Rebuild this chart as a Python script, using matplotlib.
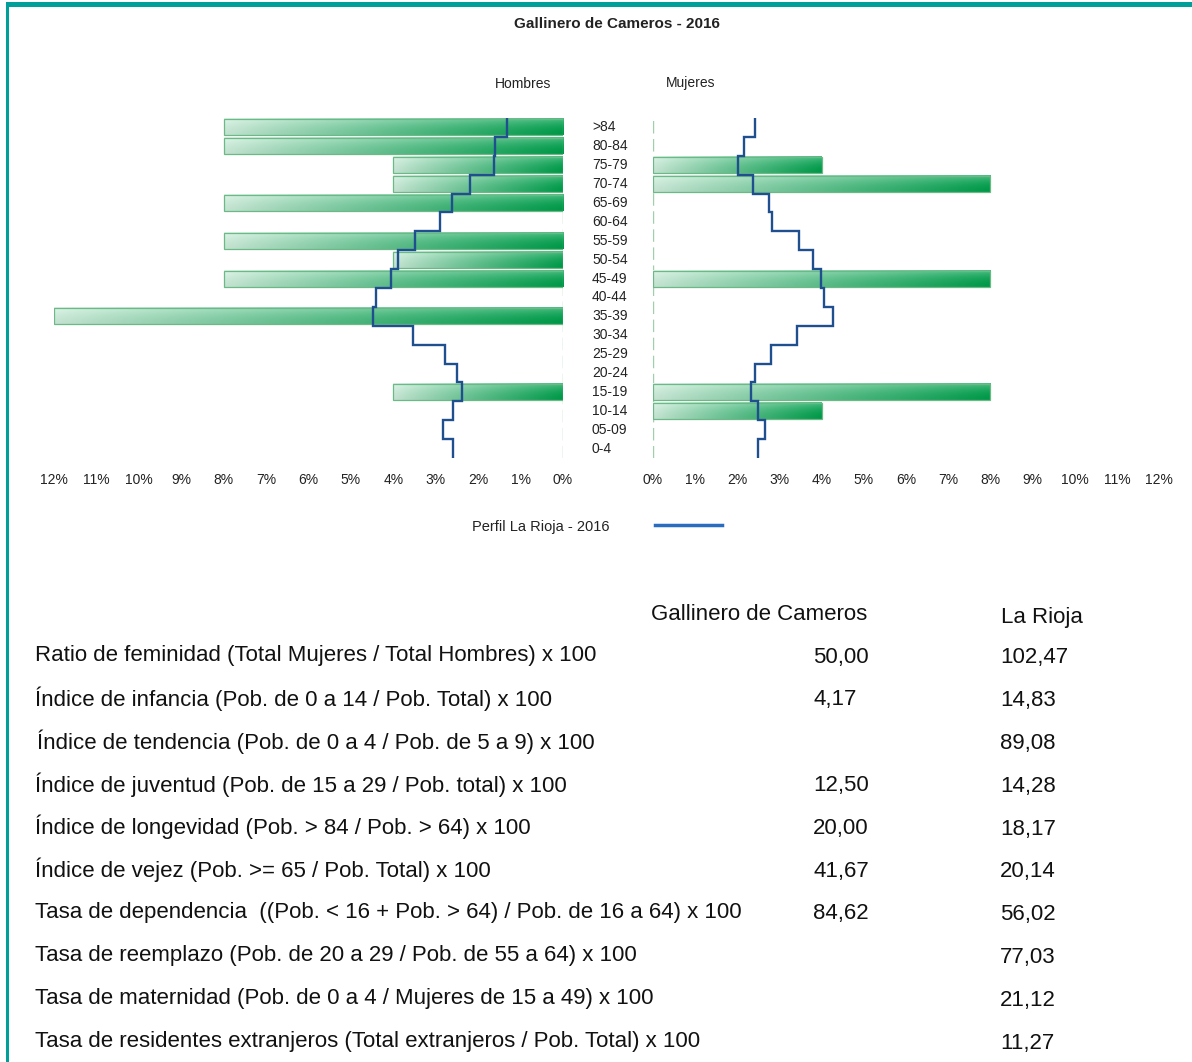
import numpy as np
import matplotlib
matplotlib.use('Agg')
import matplotlib.pyplot as plt
import matplotlib.transforms as mtransforms
from matplotlib.patches import Rectangle
from matplotlib.lines import Line2D

plt.rcParams['font.family'] = ['Liberation Sans', 'DejaVu Sans']

# grupos de edad (de arriba a abajo)
edades = ['>84', '80-84', '75-79', '70-74', '65-69', '60-64', '55-59', '50-54', '45-49',
          '40-44', '35-39', '30-34', '25-29', '20-24', '15-19', '10-14', '05-09', '0-4']

# porcentaje de poblacion del municipio
hombres = [8, 8, 4, 4, 8, 0, 8, 4, 8, 0, 12, 0, 0, 0, 4, 0, 0, 0]
mujeres = [0, 0, 4, 8, 0, 0, 0, 0, 8, 0, 0, 0, 0, 0, 8, 4, 0, 0]

# perfil La Rioja - 2016
rioja_hombres = [1.31, 1.61, 1.63, 2.20, 2.62, 2.91, 3.50, 3.90, 4.05,
                 4.40, 4.49, 3.53, 2.79, 2.49, 2.39, 2.59, 2.83, 2.60]
rioja_mujeres = [2.43, 2.16, 2.02, 2.36, 2.74, 2.82, 3.46, 3.79, 3.98,
                 4.06, 4.27, 3.42, 2.81, 2.42, 2.33, 2.50, 2.66, 2.49]

ticks = list(range(0, 13))

# tabla de indicadores
indicadores = [
    'Ratio de feminidad (Total Mujeres / Total Hombres) x 100',
    'Índice de infancia (Pob. de 0 a 14 / Pob. Total) x 100',
    'Índice de tendencia (Pob. de 0 a 4 / Pob. de 5 a 9) x 100',
    'Índice de juventud (Pob. de 15 a 29 / Pob. total) x 100',
    'Índice de longevidad (Pob. > 84 / Pob. > 64) x 100',
    'Índice de vejez (Pob. >= 65 / Pob. Total) x 100',
    'Tasa de dependencia  ((Pob. < 16 + Pob. > 64) / Pob. de 16 a 64) x 100',
    'Tasa de reemplazo (Pob. de 20 a 29 / Pob. de 55 a 64) x 100',
    'Tasa de maternidad (Pob. de 0 a 4 / Mujeres de 15 a 49) x 100',
    'Tasa de residentes extranjeros (Total extranjeros / Pob. Total) x 100',
]
valores_municipio = ['50,00', '4,17', '', '12,50', '20,00', '41,67', '84,62', '', '', '']
valores_rioja = ['102,47', '14,83', '89,08', '14,28', '18,17', '20,14', '56,02', '77,03', '21,12', '11,27']

W, H = 1192, 1062
fig = plt.figure(figsize=(W / 100, H / 100), dpi=100)


def fx(px):
    return px / W


def fy(py):
    return 1 - py / H


# degradado de las barras (claro a la izquierda, oscuro a la derecha)
claro = np.array([0.82, 0.94, 0.87])
oscuro = np.array([0.0, 0.63, 0.30])
t = np.linspace(0, 1, 200) ** 0.9
base = claro[None, :] * (1 - t[:, None]) + oscuro[None, :] * t[:, None]
v = np.linspace(0, 1, 16)
brillo = 0.30 * (1 - v) ** 2
grad = base[None, :, :] * (1 - brillo[:, None, None]) + brillo[:, None, None]
grad = np.clip(grad * (1 - 0.06 * v[:, None, None]), 0, 1)

n = len(edades)
alto = 0.85
top_px, bottom_px = 118, 458

axL = fig.add_axes([fx(54), fy(bottom_px), fx(563 - 54), (bottom_px - top_px) / H])
axR = fig.add_axes([fx(653), fy(bottom_px), fx(1159 - 653), (bottom_px - top_px) / H])

for ax, datos, perfil in [(axL, hombres, rioja_hombres), (axR, mujeres, rioja_mujeres)]:
    ax.axvline(0, color='#9fd0ad', lw=1, linestyle=(0, (9, 4)), zorder=1)
    for i, val in enumerate(datos):
        if val == 0:
            continue
        y = n - 1 - i
        if ax is axL:
            ext = (val, 0, y - alto / 2, y + alto / 2)
        else:
            ext = (0, val, y - alto / 2, y + alto / 2)
        ax.imshow(grad, extent=ext, aspect='auto', origin='upper', zorder=2, interpolation='bilinear')
        ax.add_patch(Rectangle((0, y - alto / 2), val, alto,
                               fill=False, edgecolor='#6bb987', lw=0.9, zorder=3))
    ax.stairs(perfil[::-1], np.arange(-0.5, n, 1), orientation='horizontal', baseline=None,
              color='#1f4f8f', lw=1.7, zorder=5)
    ax.set_ylim(-0.5, n - 0.5)
    ax.set_xticks(ticks)
    ax.set_xticklabels([f'{k}%' for k in ticks], fontsize=10, color='#222222')
    ax.tick_params(axis='x', length=0, pad=11)
    ax.set_yticks([])
    for s in ax.spines.values():
        s.set_visible(False)

axL.set_xlim(12, 0)
axR.set_xlim(0, 12)

# etiquetas de edad
tr = mtransforms.blended_transform_factory(fig.transFigure, axL.transData)
for i, e in enumerate(edades):
    fig.text(fx(592), n - 1 - i, e, transform=tr, ha='left', va='center', fontsize=10, color='#222222')

fig.text(fx(617), fy(23.5), 'Gallinero de Cameros - 2016', ha='center', va='center',
         fontsize=11, fontweight='bold', color='#222222')
fig.text(fx(523), fy(84), 'Hombres', ha='center', va='center', fontsize=10, color='#222222')
fig.text(fx(691), fy(83), 'Mujeres', ha='center', va='center', fontsize=10, color='#222222')

# leyenda
fig.text(fx(541), fy(527), 'Perfil La Rioja - 2016', ha='center', va='center', fontsize=10.5, color='#222222')
fig.add_artist(Line2D([fx(655), fx(722)], [fy(525), fy(525)], color='#2a6cc0', lw=2.5))

# tabla
fs = 16
fig.text(fx(651), fy(615), 'Gallinero de Cameros', ha='left', va='center', fontsize=fs, color='#111111')
fig.text(fx(1001), fy(618), 'La Rioja', ha='left', va='center', fontsize=fs, color='#111111')
for i, texto in enumerate(indicadores):
    y = 656 + i * 42.8
    x0 = 37 if i == 2 else 35
    fig.text(fx(x0), fy(y), texto, ha='left', va='center', fontsize=fs, color='#111111')
    fig.text(fx(813), fy(y + 1), valores_municipio[i], ha='left', va='center', fontsize=fs, color='#111111')
    fig.text(fx(1000), fy(y + 2), valores_rioja[i], ha='left', va='center', fontsize=fs, color='#111111')

# marco verde azulado
fig.add_artist(Rectangle((fx(6), fy(7)), 1 - fx(6), 5 / H, transform=fig.transFigure,
                         color='#009f9a', lw=0))
fig.add_artist(Rectangle((fx(6), 0), 3 / W, fy(2), transform=fig.transFigure,
                         color='#009f9a', lw=0))

fig.savefig('out.png', dpi=100)
